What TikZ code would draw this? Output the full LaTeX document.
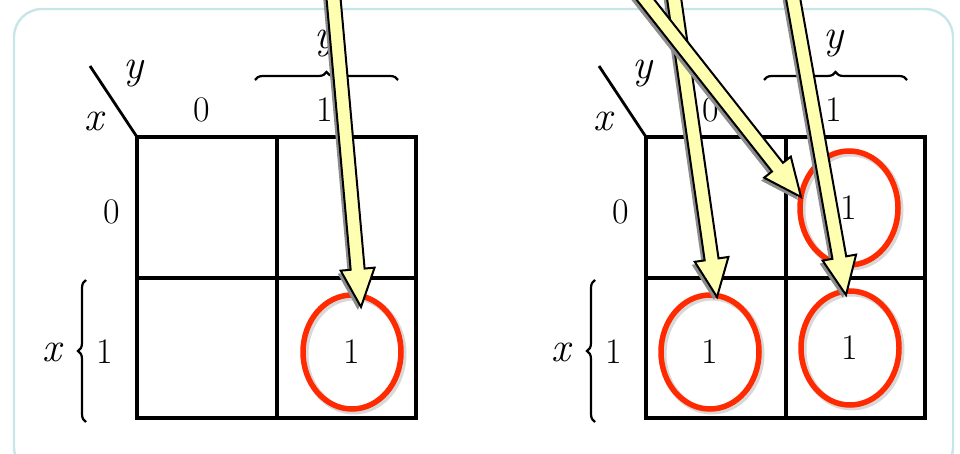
\documentclass[tikz,border=0pt]{standalone}
\usetikzlibrary{calc,shapes.geometric,shadows,decorations.pathreplacing}

\definecolor{framecol}{HTML}{C6E6EA}
\definecolor{ringred}{HTML}{FF2A00}
\definecolor{hintyellow}{HTML}{FFFFB2}

% flecha gruesa amarilla desde #1 hasta la punta #2
\newcommand{\hintarrow}[2]{%
  \coordinate (hb) at ($(#2)!38pt!(#1)$);
  \path[hint] ($(#1)!7pt!-90:(#2)$) -- ($(hb)!7pt!-90:(#2)$)
    -- ($(hb)!17pt!-90:(#2)$) -- (#2) -- ($(hb)!17pt!90:(#2)$)
    -- ($(hb)!7pt!90:(#2)$) -- ($(#1)!7pt!90:(#2)$) -- cycle;
}

\begin{document}
\begin{tikzpicture}[x=1pt, y=-1pt,
    gridline/.style={line width=3.4pt, line cap=rect},
    digit/.style={font=\fontsize{36}{40}\selectfont, inner sep=0pt},
    var/.style={font=\itshape\fontsize{42}{46}\selectfont, inner sep=0pt},
    curly/.style={decorate, decoration={brace, amplitude=8pt}, line width=2.2pt},
    ring/.style={ellipse, draw=ringred, line width=5.5pt, inner sep=0pt,
        minimum width=98pt, minimum height=114pt,
        font=\fontsize{36}{40}\selectfont,
        drop shadow={shadow xshift=2pt, shadow yshift=-2pt, draw=black!30,
            fill=none, line width=7pt, opacity=.5}},
    hint/.style={draw=black, line width=2pt, fill=hintyellow, line join=miter,
        drop shadow={shadow xshift=-3pt, shadow yshift=-3pt, fill=black!45,
            opacity=1}}]
    \path[use as bounding box, clip] (0,0) rectangle (960,454);

    % marco exterior
    \draw[framecol, line width=2.4pt, rounded corners=28pt] (14,9) rectangle (953,475);

    % los dos mapas de Karnaugh
    \foreach \m/\ox in {L/137, R/646} {
        \draw[gridline] (\ox,137) rectangle (\ox+279,418);
        \draw[gridline] (\ox+140,137) -- (\ox+140,418);
        \draw[gridline] (\ox,278) -- (\ox+279,278);
        \draw[line width=2.8pt] (\ox-47,66) -- (\ox,137);
        \node[var] (\m-y) at (\ox-4,74) {y};
        \node[var] (\m-x) at (\ox-43,121) {x};
        \node[digit] (\m-c0) at (\ox+65,110) {0};
        \node[digit] (\m-c1) at (\ox+188,110) {1};
        \node[digit] (\m-r0) at (\ox-25,212) {0};
        \node[digit] (\m-r1) at (\ox-32,352) {1};
        \draw[curly] (\ox+118,80) -- (\ox+261,80);
        \node[var] (\m-ytop) at (\ox+187,44) {y};
        \draw[curly] (\ox-51,422) -- (\ox-51,280);
        \node[var] (\m-xleft) at (\ox-85,352) {x};
    }

    % celdas con 1 rodeadas
    \node[ring] (e1) at (352,352) {1};
    \node[ring] (e2) at (849,208) {1};
    \node[ring] (e3) at (710,352) {1};
    \node[ring] (e4) at (850,348) {1};

    % extremos de las flechas
    \coordinate (s1) at (331,-30);
    \coordinate (s2) at (670,-30);
    \coordinate (s3) at (622,-30);
    \coordinate (s4) at (788,-30);
    \coordinate (t1) at ($(e1.center)+(9,-45)$);
    \coordinate (t3) at ($(e3.center)+(7,-55)$);
    \coordinate (t2) at ($(e2.center)+(-48,-11)$);
    \coordinate (t4) at ($(e4.center)+(-4,-53)$);

    % flechas
    \hintarrow{s1}{t1}
    \hintarrow{s2}{t3}
    \hintarrow{s3}{t2}
    \hintarrow{s4}{t4}
\end{tikzpicture}
\end{document}
